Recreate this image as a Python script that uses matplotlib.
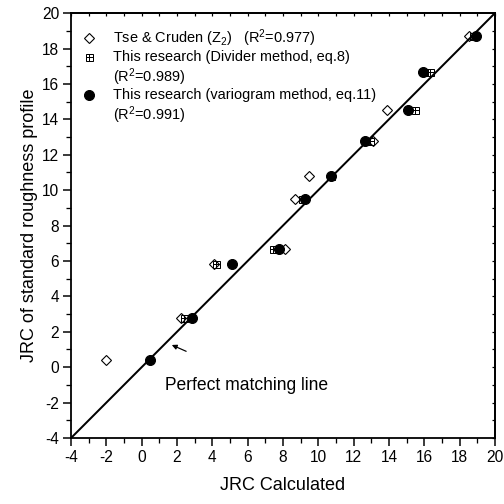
import matplotlib
matplotlib.use("Agg")
import matplotlib.pyplot as plt
from matplotlib.ticker import MultipleLocator

plt.rcParams['font.family'] = ['Liberation Sans', 'DejaVu Sans']
plt.rcParams['mathtext.fontset'] = 'custom'
plt.rcParams['mathtext.rm'] = 'Liberation Sans'
plt.rcParams['mathtext.it'] = 'Liberation Sans:italic'
plt.rcParams['axes.unicode_minus'] = False

# Tse & Cruden (Z2)
tse_x = [-2.0, 2.2, 4.1, 8.1, 8.7, 9.45, 13.1, 13.9, 18.55]
tse_y = [0.4, 2.8, 5.8, 6.7, 9.5, 10.8, 12.8, 14.5, 18.7]
# Divider method
div_x = [2.4, 4.2, 7.45, 9.1, 10.7, 12.95, 15.5, 16.0, 16.35, 18.75]
div_y = [2.8, 5.8, 6.7, 9.5, 10.8, 12.8, 14.5, 16.7, 16.7, 18.7]
# Variogram method
var_x = [0.45, 2.85, 5.1, 7.8, 9.25, 10.7, 12.65, 15.05, 15.9, 18.95]
var_y = [0.4, 2.8, 5.8, 6.7, 9.5, 10.8, 12.8, 14.5, 16.7, 18.7]
# perfect matching line
line_xy = [-4, 20]

legend_labels = [
    "Tse & Cruden (Z$_2$)   (R$^2$=0.977)",
    "This research (Divider method, eq.8)",
    "(R$^2$=0.989)",
    "This research (variogram method, eq.11)",
    "(R$^2$=0.991)",
]

fig = plt.figure(figsize=(7, 7), dpi=72)
ax = fig.add_axes([0.141, 0.131, 0.841, 0.843])

ax.plot(line_xy, line_xy, color='black', lw=2, zorder=2)

ax.plot(div_x, div_y, ls='none', marker='s', ms=7, mfc='none', mec='black', mew=1, zorder=3)
ax.plot(div_x, div_y, ls='none', marker='+', ms=7, mec='black', mew=1, zorder=3)
ax.plot(tse_x, tse_y, ls='none', marker='D', ms=7.5, mfc='none', mec='black', mew=1.1, zorder=4)
ax.plot(var_x, var_y, ls='none', marker='o', ms=10, mfc='black', mec='black', zorder=5)

ax.set_xlim(-4, 20)
ax.set_ylim(-4, 20)
ax.xaxis.set_major_locator(MultipleLocator(2))
ax.yaxis.set_major_locator(MultipleLocator(2))
ax.xaxis.set_minor_locator(MultipleLocator(1))
ax.yaxis.set_minor_locator(MultipleLocator(1))
ax.tick_params(which='major', direction='out', length=8, width=1.5, labelsize=15.5, pad=4)
ax.tick_params(which='minor', direction='out', length=5, width=1.3)
ax.tick_params(which='both', top=False, right=False)

# mirror ticks on top/right (inward, short)
secx = ax.secondary_xaxis('top')
secx.xaxis.set_major_locator(MultipleLocator(2))
secx.xaxis.set_minor_locator(MultipleLocator(1))
secx.tick_params(which='both', direction='in', length=3, width=1.2, labeltop=False)
secy = ax.secondary_yaxis('right')
secy.yaxis.set_major_locator(MultipleLocator(2))
secy.yaxis.set_minor_locator(MultipleLocator(1))
secy.tick_params(which='both', direction='in', length=3, width=1.2, labelright=False)

for s in ax.spines.values():
    s.set_linewidth(1.8)
secx.spines['top'].set_linewidth(1.8)
secy.spines['right'].set_linewidth(1.8)

ax.set_xlabel("JRC Calculated", fontsize=18, labelpad=12)
ax.set_ylabel("JRC of standard roughness profile", fontsize=18, labelpad=4)

# legend (manual)
mx, tx = 0.042, 0.099
rows = [0.941, 0.896, 0.849, 0.807, 0.760]
ax.plot([mx], [rows[0]], transform=ax.transAxes, marker='D', ms=7.5, mfc='none', mec='black', mew=1.1, clip_on=False)
ax.plot([mx], [rows[1]], transform=ax.transAxes, marker='s', ms=7, mfc='none', mec='black', mew=1, clip_on=False)
ax.plot([mx], [rows[1]], transform=ax.transAxes, marker='+', ms=7, mec='black', mew=1, clip_on=False)
ax.plot([mx], [rows[3]], transform=ax.transAxes, marker='o', ms=10, mfc='black', mec='black', clip_on=False)
for lab, r in zip(legend_labels, rows):
    ax.text(tx, r, lab, transform=ax.transAxes, fontsize=14.5, va='center', ha='left')

ax.text(1.3, -1.05, "Perfect matching line", fontsize=17.5, va='center', ha='left')
ax.annotate("", xy=(1.6, 1.3), xytext=(2.62, 0.85),
            arrowprops=dict(arrowstyle='-|>', color='black', lw=1.2, mutation_scale=10))

fig.savefig("out.png", dpi=72)
